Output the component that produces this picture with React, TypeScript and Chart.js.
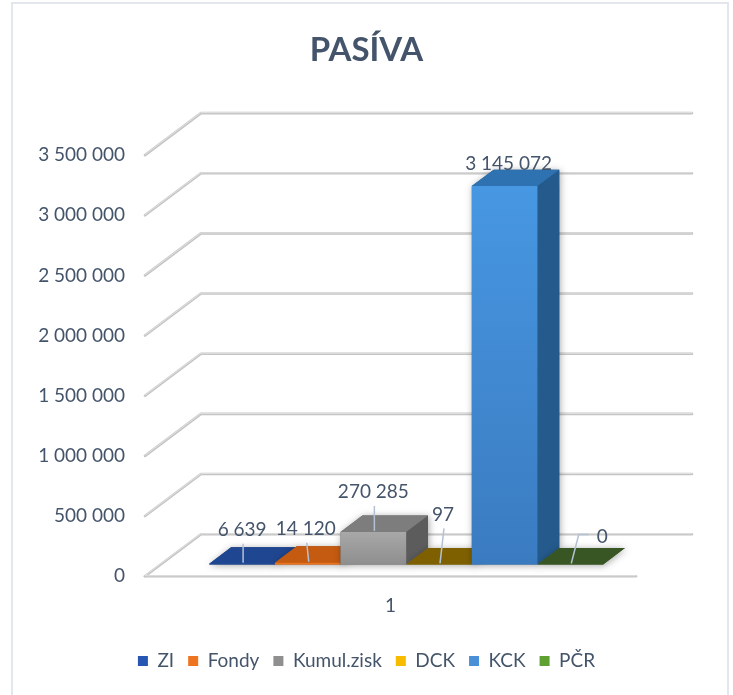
import React, { useEffect, useRef } from 'react';
import { Chart, registerables } from 'chart.js';

Chart.register(...registerables);

// ---------- data ----------
const categories = ['1'];
const seriesNames = ['ZI', 'Fondy', 'Kumul.zisk', 'DCK', 'KCK', 'PČR'];
const seriesValues = [6639, 14120, 270285, 97, 3145072, 0];
const yMin = 0;
const yMax = 3500000;
const yStep = 500000;
const chartTitle = 'PASÍVA';

// ---------- style ----------
const FONT = 'Lato, "Open Sans", "DejaVu Sans", sans-serif';
const TEXT = '#44546a';
const palette = [
  { legend: '#2757b3', frontTop: '#2f5ba8', frontBot: '#234c94', top: '#1f4690', side: '#183a78' },
  { legend: '#ef7420', frontTop: '#f27a25', frontBot: '#e86f1a', top: '#c55a11', side: '#a34a0c' },
  { legend: '#8f8f8f', frontTop: '#a8a8a8', frontBot: '#8e8e8e', top: '#7d7d7d', side: '#5c5c5c' },
  { legend: '#f7bb00', frontTop: '#ffc000', frontBot: '#e6ac00', top: '#7f6000', side: '#6b5000' },
  { legend: '#4a90d9', frontTop: '#4797e2', frontBot: '#3a7bc0', top: '#2f72b2', side: '#245a8c' },
  { legend: '#5fa033', frontTop: '#70ad47', frontBot: '#5e9a38', top: '#375623', side: '#2c4a1c' },
];
// label placement relative to bar front-top centre (labels were moved by hand in the original)
const labelNudge = [
  [0, -34], [-2, -34], [0, -40], [4, -50], [4, -22], [32, -28],
];
// perspective
const DEPTH = { x: 56, y: -42 };
const BAR_FRONT = 0.28;
const BAR_DEPTH = 0.39;

const fmt = (v: number) => String(Math.round(v)).replace(/\B(?=(\d{3})+(?!\d))/g, ' ');

function poly(ctx: CanvasRenderingContext2D, pts: number[][], fill: string | CanvasGradient) {
  ctx.beginPath();
  ctx.moveTo(pts[0][0], pts[0][1]);
  for (let i = 1; i < pts.length; i++) ctx.lineTo(pts[i][0], pts[i][1]);
  ctx.closePath();
  ctx.fillStyle = fill;
  ctx.fill();
}

function gridLine(ctx: CanvasRenderingContext2D, pts: number[][]) {
  ctx.save();
  ctx.lineCap = 'round';
  ctx.lineJoin = 'round';
  ctx.beginPath();
  ctx.moveTo(pts[0][0], pts[0][1]);
  for (let i = 1; i < pts.length; i++) ctx.lineTo(pts[i][0], pts[i][1]);
  ctx.strokeStyle = '#c4c4c4';
  ctx.lineWidth = 2.6;
  ctx.stroke();
  ctx.beginPath();
  ctx.moveTo(pts[0][0], pts[0][1] - 0.5);
  for (let i = 1; i < pts.length; i++) ctx.lineTo(pts[i][0], pts[i][1] - 0.5);
  ctx.strokeStyle = '#e2e2e2';
  ctx.lineWidth = 1;
  ctx.stroke();
  ctx.restore();
}

const threeD = {
  id: 'threeD',
  beforeDatasetsDraw(chart: any) {
    const { ctx, chartArea } = chart;
    const yScale = chart.scales.y;
    const L = chartArea.left;
    const R = chartArea.right;
    // 3D grid: side wall diagonals + back wall
    yScale.ticks.forEach((t: any) => {
      const y = yScale.getPixelForValue(t.value);
      gridLine(ctx, [[L, y], [L + DEPTH.x, y + DEPTH.y], [R + DEPTH.x, y + DEPTH.y]]);
      if (t.value === yMin) gridLine(ctx, [[L, y], [R, y]]);
    });
    // bars
    const fdx = DEPTH.x * BAR_FRONT, fdy = DEPTH.y * BAR_FRONT;
    const bdx = DEPTH.x * BAR_DEPTH, bdy = DEPTH.y * BAR_DEPTH;
    chart.data.datasets.forEach((ds: any, i: number) => {
      const el = chart.getDatasetMeta(i).data[0];
      if (!el) return;
      const c = palette[i];
      const x0 = el.x - el.width / 2 + fdx;
      const x1 = el.x + el.width / 2 + fdx;
      const yT = el.y + fdy;
      const yB = el.base + fdy;
      ctx.save();
      ctx.shadowColor = 'rgba(0,0,0,0.35)';
      ctx.shadowBlur = 7;
      ctx.shadowOffsetX = 1;
      ctx.shadowOffsetY = 1;
      poly(ctx, [[x0, yB], [x0, yT], [x0 + bdx, yT + bdy], [x1 + bdx, yT + bdy], [x1 + bdx, yB + bdy], [x1, yB]], c.side);
      ctx.restore();
      // side
      poly(ctx, [[x1, yT], [x1 + bdx, yT + bdy], [x1 + bdx, yB + bdy], [x1, yB]], c.side);
      // top
      poly(ctx, [[x0, yT], [x1, yT], [x1 + bdx, yT + bdy], [x0 + bdx, yT + bdy]], c.top);
      // front
      if (yB - yT > 0.3) {
        const fg = ctx.createLinearGradient(0, yT, 0, yB);
        fg.addColorStop(0, c.frontTop);
        fg.addColorStop(1, c.frontBot);
        poly(ctx, [[x0, yT], [x1, yT], [x1, yB], [x0, yB]], fg);
      }
    });
    return false;
  },
  afterDraw(chart: any) {
    const { ctx } = chart;
    const fdx = DEPTH.x * BAR_FRONT, fdy = DEPTH.y * BAR_FRONT;
    ctx.save();
    ctx.font = `19px ${FONT}`;
    ctx.textAlign = 'center';
    ctx.textBaseline = 'middle';
    chart.data.datasets.forEach((ds: any, i: number) => {
      const el = chart.getDatasetMeta(i).data[0];
      if (!el) return;
      const fx = el.x + fdx;
      const fy = el.y + fdy;
      const [nx, ny] = labelNudge[i];
      const lx = fx + nx;
      const ly = fy + ny;
      const txt = fmt(ds.data[0]);
      const w = ctx.measureText(txt).width;
      ctx.strokeStyle = '#b3c1d3';
      ctx.lineWidth = 1.5;
      if (Math.abs(nx) > 15) {
        ctx.beginPath();
        ctx.moveTo(fx + 1, fy - 1);
        ctx.lineTo(lx - w / 2 - 18, ly - 2);
        ctx.lineTo(lx - w / 2 - 8, ly - 2);
        ctx.stroke();
      } else if (ny < -25) {
        ctx.beginPath();
        ctx.moveTo(fx + 1, fy - 1);
        ctx.lineTo(lx + 1, ly + 14);
        ctx.stroke();
      }
      ctx.fillStyle = TEXT;
      ctx.fillText(txt, lx, ly);
    });
    ctx.restore();
  },
};

export default function App() {
  const ref = useRef<HTMLCanvasElement>(null);
  useEffect(() => {
    if (!ref.current) return;
    Chart.defaults.font.family = FONT;
    const chart = new Chart(ref.current, {
      type: 'bar',
      data: {
        labels: categories,
        datasets: seriesNames.map((name, i) => ({
          label: name,
          data: [seriesValues[i]],
          backgroundColor: palette[i].legend,
          borderWidth: 0,
          categoryPercentage: 0.802,
          barPercentage: 1,
          yAxisID: 'y',
        })),
      },
      options: {
        responsive: false,
        animation: false,
        devicePixelRatio: 1,
        layout: { padding: { left: 0, right: 0, top: 0, bottom: 14.5 } },
        scales: {
          x: {
            grid: { display: false, drawTicks: false },
            border: { display: false },
            ticks: { color: TEXT, font: { size: 19 }, padding: 18 },
            afterFit: (s: any) => { s.height = 61.3; },
          },
          y: {
            min: yMin,
            max: yMax,
            grid: { display: false, drawTicks: false },
            border: { display: false },
            ticks: { stepSize: yStep, color: TEXT, font: { size: 19 }, padding: 20, callback: (v: any) => fmt(Number(v)) },
            afterFit: (s: any) => { s.width = 145; },
          },
          yRight: {
            position: 'right',
            min: 0,
            max: 1,
            grid: { display: false, drawTicks: false },
            border: { display: false },
            ticks: { display: false },
            afterFit: (s: any) => { s.width = 97; },
          },
        },
        plugins: {
          title: {
            display: true,
            text: chartTitle,
            color: TEXT,
            font: { size: 33, weight: 'bold' },
            padding: { top: 31, bottom: 84.5 },
          },
          legend: {
            position: 'bottom',
            labels: { boxWidth: 10, boxHeight: 10, color: TEXT, font: { size: 19 }, padding: 14 },
          },
          tooltip: { enabled: false },
        },
      },
      plugins: [threeD],
    } as any);
    return () => chart.destroy();
  }, []);
  return (
    <div style={{ position: 'fixed', left: 0, top: 0, width: 733, height: 695, background: '#ffffff', overflow: 'hidden' }}>
      <canvas ref={ref} width={733} height={695} style={{ position: 'absolute', left: 0, top: 0, width: 733, height: 695 }} />
      <div style={{ position: 'absolute', left: 11, top: 2, width: 714, height: 720, border: '2px solid #e3e7ed', pointerEvents: 'none' }} />
    </div>
  );
}
